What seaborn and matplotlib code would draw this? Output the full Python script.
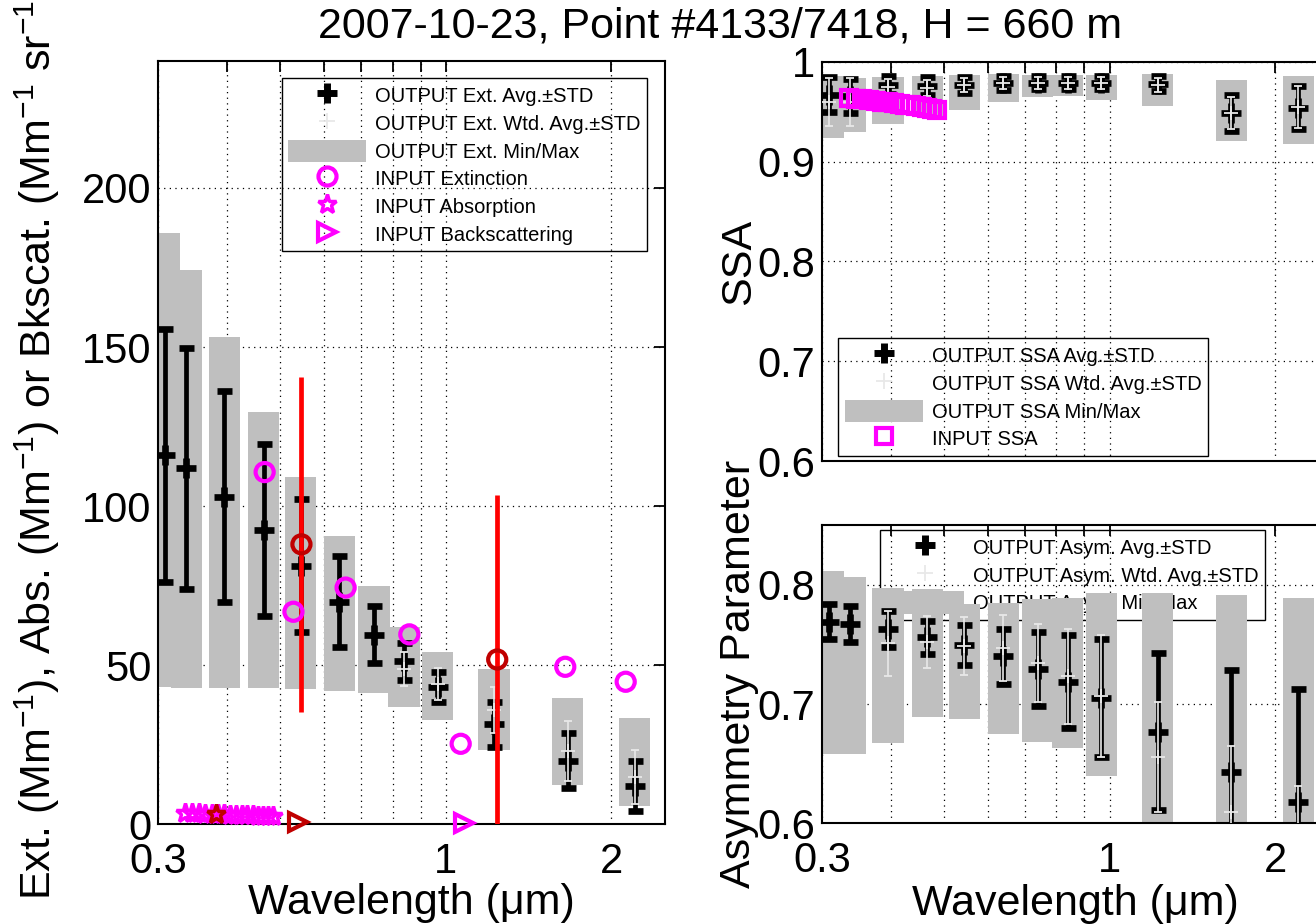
import numpy as np
import matplotlib
matplotlib.use('Agg')
import matplotlib.pyplot as plt
import seaborn as sns
from matplotlib.lines import Line2D
from matplotlib.patches import Patch
from matplotlib.ticker import NullLocator

# ---- data ----
title = '2007-10-23, Point #4133/7418, H = 660 m'

# output wavelengths (um)
wavelength = [0.308, 0.337, 0.395, 0.466, 0.544, 0.640, 0.740, 0.839, 0.966, 1.223, 1.665, 2.204]

# extinction (Mm-1)
ext_avg = [116.0, 111.9, 103.0, 92.5, 81.3, 69.9, 59.6, 51.3, 43.2, 31.4, 20.0, 12.1]
ext_std = [39.7, 37.9, 33.1, 27.1, 20.8, 14.3, 8.9, 5.8, 4.7, 7.1, 8.7, 7.9]
ext_wavg = [np.nan, np.nan, np.nan, np.nan, np.nan, np.nan, np.nan, 48.8, 44.1, 35.8, 23.0, 14.8]
ext_wstd = [np.nan, np.nan, np.nan, np.nan, np.nan, np.nan, np.nan, 5.4, 4.9, 7.2, 9.5, 8.5]
ext_min = [43.2, 42.9, 42.9, 42.8, 42.5, 41.9, 41.3, 36.8, 32.7, 23.5, 12.2, 5.7]
ext_max = [185.7, 174.3, 153.2, 129.5, 109.1, 90.6, 74.8, 61.9, 54.0, 48.7, 39.7, 33.3]

# single scattering albedo
ssa_avg = [0.967, 0.966, 0.9765, 0.9755, 0.977, 0.979, 0.979, 0.979, 0.979, 0.978, 0.949, 0.954]
ssa_std = [0.0175, 0.017, 0.009, 0.009, 0.008, 0.007, 0.0068, 0.0063, 0.0065, 0.0075, 0.018, 0.0216]
ssa_wavg = [0.9595, 0.9595, 0.975, 0.974, 0.977, 0.979, 0.979, 0.979, 0.979, 0.977, 0.949, 0.955]
ssa_wstd = [0.024, 0.024, 0.008, 0.008, 0.007, 0.006, 0.006, 0.006, 0.006, 0.007, 0.016, 0.021]
ssa_min = [0.9233, 0.930, 0.938, 0.946, 0.952, 0.9596, 0.9646, 0.9656, 0.9616, 0.9556, 0.9207, 0.918]
ssa_max = [0.9855, 0.984, 0.985, 0.9855, 0.9865, 0.988, 0.9865, 0.9865, 0.987, 0.988, 0.9815, 0.986]

# asymmetry parameter
asy_avg = [0.769, 0.767, 0.763, 0.756, 0.7495, 0.740, 0.7295, 0.7187, 0.705, 0.677, 0.643, 0.618]
asy_std = [0.0147, 0.015, 0.0147, 0.014, 0.0168, 0.023, 0.0307, 0.039, 0.0497, 0.0656, 0.0852, 0.095]
asy_wavg = [np.nan, np.nan, 0.751, 0.752, 0.7486, 0.747, 0.7346, 0.7235, 0.7067, 0.6558, 0.6097, 0.590]
asy_wstd = [np.nan, np.nan, 0.0275, 0.0217, 0.0245, 0.028, 0.0328, 0.0398, 0.051, 0.046, 0.055, 0.041]
asy_min = [0.6578, 0.6578, 0.667, 0.6889, 0.6872, 0.6749, 0.6681, 0.6629, 0.6396, 0.55, 0.55, 0.55]
asy_max = [0.8117, 0.8067, 0.7975, 0.7965, 0.7836, 0.7844, 0.7878, 0.7894, 0.7928, 0.7936, 0.7914, 0.7886]

# inputs
in_ext_wl = [0.468, 0.528, 0.657, 0.858, 1.064, 1.649, 2.124]
in_ext = [110.7, 66.8, 74.4, 59.7, 25.3, 49.5, 44.8]
sel_ext_wl = [0.546, 1.240]
sel_ext = [88.0, 51.8]
sel_ext_err = [52.7, 51.6]
in_spec_wl = [0.335, 0.345, 0.355, 0.365, 0.375, 0.385, 0.395, 0.405,
              0.415, 0.425, 0.435, 0.445, 0.455, 0.465, 0.475, 0.485]
in_abs = [3.5, 3.4, 3.4, 3.3, 3.2, 3.2, 3.1, 3.0, 3.0, 2.9, 2.8, 2.8, 2.7, 2.6, 2.6, 2.5]
in_ssa = [0.964, 0.963, 0.963, 0.962, 0.961, 0.960, 0.960, 0.959,
          0.958, 0.957, 0.957, 0.956, 0.955, 0.954, 0.953, 0.952]
sel_abs_wl = [0.381]
sel_abs = [3.2]
in_bks_wl = [1.077]
in_bks = [0.3]
sel_bks_wl = [0.538]
sel_bks = [0.8]

# ---- style ----
sns.set_style('white')
plt.rcParams['font.family'] = ['Liberation Sans', 'DejaVu Sans']
plt.rcParams['mathtext.default'] = 'regular'
plt.rcParams['text.color'] = 'k'
plt.rcParams['axes.labelcolor'] = 'k'
plt.rcParams['xtick.color'] = 'k'
plt.rcParams['ytick.color'] = 'k'

GRAY = '#bfbfbf'
LIGHT = '#e8e8e8'
MAG = '#ff00ff'
DRED = '#c00000'
RED = '#ff0000'
HALF_DEC = 0.0284  # half width of the min/max boxes in decades
TICK_FS = 30
LABEL_FS = 31
LEG_FS = 14.5
xticks = [0.3, 0.4, 0.5, 0.6, 0.7, 0.8, 0.9, 1, 2]
xticklabels = ['0.3', '', '', '', '', '', '', '1', '2']

fig = plt.figure(figsize=(13.16, 9.24), dpi=100)
ax_ext = fig.add_axes([0.12044, 0.10790, 0.38457, 0.82641])
ax_ssa = fig.add_axes([0.62485, 0.50076, 0.38450, 0.43247])
ax_asy = fig.add_axes([0.62485, 0.10898, 0.38450, 0.32251])


def style_axis(ax, ylim, yticks, yticklabels, show_x=True):
    ax.set_xscale('log')
    ax.set_xlim(0.3, 2.5)
    ax.set_xticks(xticks)
    ax.set_xticklabels(xticklabels if show_x else [''] * len(xticks))
    ax.xaxis.set_minor_locator(NullLocator())
    ax.set_ylim(*ylim)
    ax.set_yticks(yticks)
    ax.set_yticklabels(yticklabels)
    ax.tick_params(direction='in', top=True, right=True, length=8, width=1.3,
                   labelsize=TICK_FS, colors='k')
    ax.tick_params(axis='x', pad=13)
    ax.tick_params(axis='y', pad=5)
    ax.grid(True, ls=(0, (1, 3.5)), color='k', lw=0.9)
    ax.set_axisbelow(True)
    for s in ax.spines.values():
        s.set_linewidth(1.5)
        s.set_color('k')


def draw_stats(ax, avg, std, wavg, wstd, vmin, vmax):
    wl = np.asarray(wavelength)
    lo = wl / 10 ** HALF_DEC
    hi = wl * 10 ** HALF_DEC
    ax.bar(lo, np.subtract(vmax, vmin), width=hi - lo, bottom=vmin, align='edge',
           color=GRAY, lw=0, zorder=2)
    ax.errorbar(wl, avg, yerr=std, fmt='+', color='k', ms=15, mew=4.8,
                elinewidth=3.4, capsize=5.4, capthick=4.3, zorder=3)
    ax.errorbar(wl, wavg, yerr=wstd, fmt='+', color=LIGHT, ms=10, mew=1.3,
                elinewidth=1.2, capsize=3.2, capthick=1.2, zorder=4)


def make_legend(ax, handles, labels, anchor, zorder=5):
    leg = ax.legend(handles, labels, loc='upper left', bbox_to_anchor=anchor,
                    borderaxespad=0, fontsize=LEG_FS, frameon=True, fancybox=False,
                    edgecolor='k', facecolor='none', framealpha=1,
                    handlelength=3.9, handleheight=1.35, handletextpad=0.45,
                    labelspacing=0.25, borderpad=0.3)
    leg.get_frame().set_linewidth(1.0)
    leg.set_zorder(zorder)
    return leg


h_avg = Line2D([], [], ls='none', marker='+', color='k', ms=15, mew=5)
h_wtd = Line2D([], [], ls='none', marker='+', color=LIGHT, ms=12, mew=1.3)
h_rng = Patch(facecolor=GRAY, edgecolor='none')

# ---- extinction panel ----
ax = ax_ext
style_axis(ax, (0, 240), [0, 50, 100, 150, 200], ['0', '50', '100', '150', '200'])
draw_stats(ax, ext_avg, ext_std, ext_wavg, ext_wstd, ext_min, ext_max)
ax.errorbar(sel_ext_wl, sel_ext, yerr=sel_ext_err, fmt='none', ecolor=RED,
            elinewidth=3.4, capsize=0, zorder=5)
sns.scatterplot(x=in_ext_wl, y=in_ext, marker='o', s=170, facecolors='none',
                edgecolor=MAG, linewidth=3, ax=ax, zorder=6, clip_on=False)
sns.scatterplot(x=sel_ext_wl, y=sel_ext, marker='o', s=170, facecolors='none',
                edgecolor=DRED, linewidth=3, ax=ax, zorder=7, clip_on=False)
ax.plot(in_spec_wl, in_abs, ls='none', marker='*', ms=14, mfc='none', mec=MAG,
        mew=2.5, zorder=6, clip_on=False)
ax.plot(sel_abs_wl, sel_abs, ls='none', marker='*', ms=14, mfc='none', mec=DRED,
        mew=2.5, zorder=7, clip_on=False)
ax.plot(in_bks_wl, in_bks, ls='none', marker='>', ms=13, mfc='none', mec=MAG,
        mew=3, zorder=6, clip_on=False)
ax.plot(sel_bks_wl, sel_bks, ls='none', marker='>', ms=13, mfc='none', mec=DRED,
        mew=3, zorder=7, clip_on=False)
ax.set_xlabel('Wavelength (\u03bcm)', fontsize=LABEL_FS)
ax.set_ylabel('Ext. (Mm$^{-1}$), Abs. (Mm$^{-1}$) or Bkscat. (Mm$^{-1}$ sr$^{-1}$)',
              fontsize=LABEL_FS)
ax.xaxis.set_label_coords(0.5, -0.077)
ax.yaxis.set_label_coords(-0.19, 0.5)
make_legend(ax,
            [h_avg, h_wtd, h_rng,
             Line2D([], [], ls='none', marker='o', mfc='none', mec=MAG, ms=13, mew=3),
             Line2D([], [], ls='none', marker='*', mfc='none', mec=MAG, ms=14, mew=2.5),
             Line2D([], [], ls='none', marker='>', mfc='none', mec=MAG, ms=13, mew=3)],
            ['OUTPUT Ext. Avg.\u00b1STD', 'OUTPUT Ext. Wtd. Avg.\u00b1STD',
             'OUTPUT Ext. Min/Max', 'INPUT Extinction', 'INPUT Absorption',
             'INPUT Backscattering'],
            (0.2436, 0.977))

# ---- SSA panel ----
ax = ax_ssa
style_axis(ax, (0.6, 1.0), [0.6, 0.7, 0.8, 0.9, 1.0], ['0.6', '0.7', '0.8', '0.9', '1'],
           show_x=False)
draw_stats(ax, ssa_avg, ssa_std, ssa_wavg, ssa_wstd, ssa_min, ssa_max)
ax.plot(in_spec_wl, in_ssa, ls='none', marker='s', ms=11, mfc='none', mec=MAG,
        mew=3, zorder=6, clip_on=False)
ax.set_ylabel('SSA', fontsize=LABEL_FS)
ax.yaxis.set_label_coords(-0.125, 0.5)
make_legend(ax,
            [h_avg, h_wtd, h_rng,
             Line2D([], [], ls='none', marker='s', mfc='none', mec=MAG, ms=11, mew=3)],
            ['OUTPUT SSA Avg.\u00b1STD', 'OUTPUT SSA Wtd. Avg.\u00b1STD',
             'OUTPUT SSA Min/Max', 'INPUT SSA'],
            (0.032, 0.308))

# ---- asymmetry panel ----
ax = ax_asy
style_axis(ax, (0.6, 0.85), [0.6, 0.7, 0.8], ['0.6', '0.7', '0.8'])
draw_stats(ax, asy_avg, asy_std, asy_wavg, asy_wstd, asy_min, asy_max)
ax.set_xlabel('Wavelength (\u03bcm)', fontsize=LABEL_FS)
ax.set_ylabel('Asymmetry Parameter', fontsize=LABEL_FS)
ax.xaxis.set_label_coords(0.5, -0.205)
ax.yaxis.set_label_coords(-0.125, 0.5)
make_legend(ax, [h_avg, h_wtd, h_rng],
            ['OUTPUT Asym. Avg.\u00b1STD', 'OUTPUT Asym. Wtd. Avg.\u00b1STD',
             'OUTPUT Asym. Min/Max'],
            (0.1134, 0.984), zorder=1.8)

fig.text(0.547, 0.971, title, ha='center', va='center', fontsize=LABEL_FS)

fig.savefig('out.png', dpi=100)
